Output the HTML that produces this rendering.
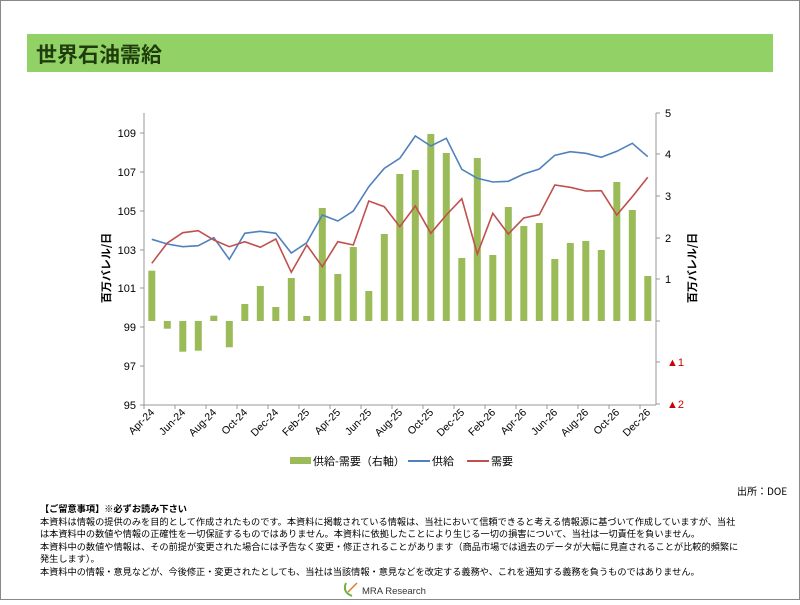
<!DOCTYPE html>
<html><head><meta charset="utf-8"><style>
body{margin:0;width:800px;height:600px;overflow:hidden;background:#fff;font-family:"Liberation Sans","Noto Sans CJK JP",sans-serif;}
</style></head><body>
<svg width="800" height="600" xmlns="http://www.w3.org/2000/svg" font-family="Liberation Sans, Noto Sans CJK JP, sans-serif">
<rect x="0.5" y="0.5" width="799" height="599" fill="#fff" stroke="#888"/>
<rect x="27" y="34" width="746" height="38" fill="#92D166"/>
<text x="36" y="62" font-size="21" font-weight="bold" fill="#1f3d0c" font-family="Noto Sans CJK JP, sans-serif">世界石油需給</text>
<!-- axes -->
<line x1="144" y1="113" x2="144" y2="405" stroke="#999"/>
<line x1="656" y1="113" x2="656" y2="405" stroke="#999"/>
<line x1="144" y1="405" x2="656" y2="405" stroke="#999"/>
<g stroke="#999">
<line x1="140" y1="133" x2="144" y2="133"/><line x1="140" y1="172" x2="144" y2="172"/><line x1="140" y1="211" x2="144" y2="211"/><line x1="140" y1="250" x2="144" y2="250"/><line x1="140" y1="288" x2="144" y2="288"/><line x1="140" y1="327" x2="144" y2="327"/><line x1="140" y1="366" x2="144" y2="366"/><line x1="140" y1="405" x2="144" y2="405"/>
<line x1="656" y1="113" x2="660" y2="113"/><line x1="656" y1="154" x2="660" y2="154"/><line x1="656" y1="196" x2="660" y2="196"/><line x1="656" y1="238" x2="660" y2="238"/><line x1="656" y1="279" x2="660" y2="279"/><line x1="656" y1="321" x2="660" y2="321"/><line x1="656" y1="362" x2="660" y2="362"/><line x1="656" y1="404" x2="660" y2="404"/>
<line x1="144" y1="405" x2="144" y2="409"/><line x1="175" y1="405" x2="175" y2="409"/><line x1="206" y1="405" x2="206" y2="409"/><line x1="237" y1="405" x2="237" y2="409"/><line x1="268" y1="405" x2="268" y2="409"/><line x1="299" y1="405" x2="299" y2="409"/><line x1="330" y1="405" x2="330" y2="409"/><line x1="361" y1="405" x2="361" y2="409"/><line x1="392" y1="405" x2="392" y2="409"/><line x1="423" y1="405" x2="423" y2="409"/><line x1="454" y1="405" x2="454" y2="409"/><line x1="485" y1="405" x2="485" y2="409"/><line x1="516" y1="405" x2="516" y2="409"/><line x1="547" y1="405" x2="547" y2="409"/><line x1="578" y1="405" x2="578" y2="409"/><line x1="609" y1="405" x2="609" y2="409"/><line x1="640" y1="405" x2="640" y2="409"/>
</g>
<g font-size="11" fill="#000" text-anchor="end">
<text x="136" y="137">109</text><text x="136" y="176">107</text><text x="136" y="215">105</text><text x="136" y="254">103</text><text x="136" y="292">101</text><text x="136" y="331">99</text><text x="136" y="370">97</text><text x="136" y="409">95</text>
</g>
<g font-size="11" fill="#000">
<text x="665" y="117">5</text><text x="665" y="158">4</text><text x="665" y="200">3</text><text x="665" y="242">2</text><text x="665" y="283">1</text>
<text x="667" y="366" fill="#c00">▲1</text><text x="667" y="408" fill="#c00">▲2</text>
</g>
<text transform="translate(110,268) rotate(-90)" font-size="11" font-weight="bold" text-anchor="middle" font-family="Noto Sans CJK JP, sans-serif">百万バレル/日</text>
<text transform="translate(696,268) rotate(-90)" font-size="11" font-weight="bold" text-anchor="middle" font-family="Noto Sans CJK JP, sans-serif">百万バレル/日</text>
<!-- bars -->
<g fill="#9BBB59">
<rect x="148.3" y="270.7" width="7" height="50.3"/><rect x="163.8" y="321" width="7" height="7.7"/><rect x="179.3" y="321" width="7" height="30.7"/><rect x="194.8" y="321" width="7" height="29.7"/><rect x="210.3" y="315.7" width="7" height="5.3"/><rect x="225.8" y="321" width="7" height="26.3"/><rect x="241.3" y="304" width="7" height="17"/><rect x="256.8" y="286" width="7" height="35"/><rect x="272.3" y="307" width="7" height="14"/><rect x="287.8" y="278" width="7" height="43"/><rect x="303.3" y="316" width="7" height="5"/><rect x="318.8" y="208" width="7" height="113"/><rect x="334.3" y="274" width="7" height="47"/><rect x="349.8" y="247" width="7" height="74"/><rect x="365.3" y="291" width="7" height="30"/><rect x="380.8" y="234" width="7" height="87"/><rect x="396.3" y="174" width="7" height="147"/><rect x="411.8" y="170" width="7" height="151"/><rect x="427.3" y="134" width="7" height="187"/><rect x="442.8" y="153" width="7" height="168"/><rect x="458.3" y="258" width="7" height="63"/><rect x="473.8" y="158" width="7" height="163"/><rect x="489.3" y="255" width="7" height="66"/><rect x="504.8" y="207" width="7" height="114"/><rect x="520.3" y="226" width="7" height="95"/><rect x="535.8" y="223" width="7" height="98"/><rect x="551.3" y="259" width="7" height="62"/><rect x="566.8" y="243" width="7" height="78"/><rect x="582.3" y="241" width="7" height="80"/><rect x="597.8" y="250" width="7" height="71"/><rect x="613.3" y="182" width="7" height="139"/><rect x="628.8" y="210" width="7" height="111"/><rect x="644.3" y="276" width="7" height="45"/>
</g>
<polyline fill="none" stroke="#4F81BD" stroke-width="1.6" points="151.8,239.3 167.3,244 182.8,246.7 198.3,245.7 213.8,237.7 229.3,259.3 244.8,233.3 260.3,231.3 275.8,233.3 291.3,253 306.8,242.7 322.3,215 337.8,221 353.3,211 368.8,186.7 384.3,168.3 399.8,158.3 415.3,136 430.8,146 446.3,138.3 461.8,169.3 477.3,178.3 492.8,182 508.3,181.3 523.8,174 539.3,169 554.8,155.3 570.3,151.7 585.8,153.3 601.3,157.3 616.8,151.3 632.3,143.3 647.8,156.7"/>
<polyline fill="none" stroke="#C0504D" stroke-width="1.6" points="151.8,263.3 167.3,243 182.8,232.7 198.3,230.7 213.8,240 229.3,246.7 244.8,241.7 260.3,247.3 275.8,239 291.3,272.3 306.8,245 322.3,266.7 337.8,241.7 353.3,245 368.8,201 384.3,206.7 399.8,226.7 415.3,206 430.8,233.3 446.3,215 461.8,198.7 477.3,254 492.8,213.3 508.3,234 523.8,218 539.3,214.7 554.8,185 570.3,187.3 585.8,191 601.3,190.7 616.8,215 632.3,196.7 647.8,177.3"/>
<g font-size="10.5" text-anchor="end" fill="#000">
<text transform="translate(155,413) rotate(-45)">Apr-24</text><text transform="translate(186,413) rotate(-45)">Jun-24</text><text transform="translate(217,413) rotate(-45)">Aug-24</text><text transform="translate(248,413) rotate(-45)">Oct-24</text><text transform="translate(279,413) rotate(-45)">Dec-24</text><text transform="translate(310,413) rotate(-45)">Feb-25</text><text transform="translate(341,413) rotate(-45)">Apr-25</text><text transform="translate(372,413) rotate(-45)">Jun-25</text><text transform="translate(403,413) rotate(-45)">Aug-25</text><text transform="translate(434,413) rotate(-45)">Oct-25</text><text transform="translate(465,413) rotate(-45)">Dec-25</text><text transform="translate(496,413) rotate(-45)">Feb-26</text><text transform="translate(527,413) rotate(-45)">Apr-26</text><text transform="translate(558,413) rotate(-45)">Jun-26</text><text transform="translate(589,413) rotate(-45)">Aug-26</text><text transform="translate(620,413) rotate(-45)">Oct-26</text><text transform="translate(651,413) rotate(-45)">Dec-26</text>
</g>
<!-- legend -->
<rect x="290" y="457" width="21" height="7" fill="#9BBB59"/>
<text x="313" y="465" font-size="11" font-family="Noto Sans CJK JP, sans-serif">供給-需要（右軸）</text>
<line x1="408" y1="461" x2="430" y2="461" stroke="#4F81BD" stroke-width="2"/>
<text x="432" y="465" font-size="11" font-family="Noto Sans CJK JP, sans-serif">供給</text>
<line x1="467" y1="461" x2="489" y2="461" stroke="#C0504D" stroke-width="2"/>
<text x="491" y="465" font-size="11" font-family="Noto Sans CJK JP, sans-serif">需要</text>
<text x="737" y="495" font-size="10" font-family="Noto Sans CJK JP, sans-serif">出所：DOE</text>
<g font-size="9.2" font-family="Noto Sans CJK JP, sans-serif" fill="#000">
<text x="40" y="512" font-weight="bold">【ご留意事項】※必ずお読み下さい</text>
<text x="40" y="525">本資料は情報の提供のみを目的として作成されたものです。本資料に掲載されている情報は、当社において信頼できると考える情報源に基づいて作成していますが、当社</text>
<text x="40" y="537">は本資料中の数値や情報の正確性を一切保証するものではありません。本資料に依拠したことにより生じる一切の損害について、当社は一切責任を負いません。</text>
<text x="40" y="550">本資料中の数値や情報は、その前提が変更された場合には予告なく変更・修正されることがあります（商品市場では過去のデータが大幅に見直されることが比較的頻繁に</text>
<text x="40" y="562">発生します）。</text>
<text x="40" y="575">本資料中の情報・意見などが、今後修正・変更されたとしても、当社は当該情報・意見などを改定する義務や、これを通知する義務を負うものではありません。</text>
</g>
<path d="M346,583 q-4,9 6,13" fill="none" stroke="#6bb23a" stroke-width="2"/>
<path d="M348,592 l9,-9" stroke="#e07b2a" stroke-width="1.5"/>
<text x="362" y="594" font-size="9.5" fill="#333">MRA Research</text>
</svg>
</body></html>
